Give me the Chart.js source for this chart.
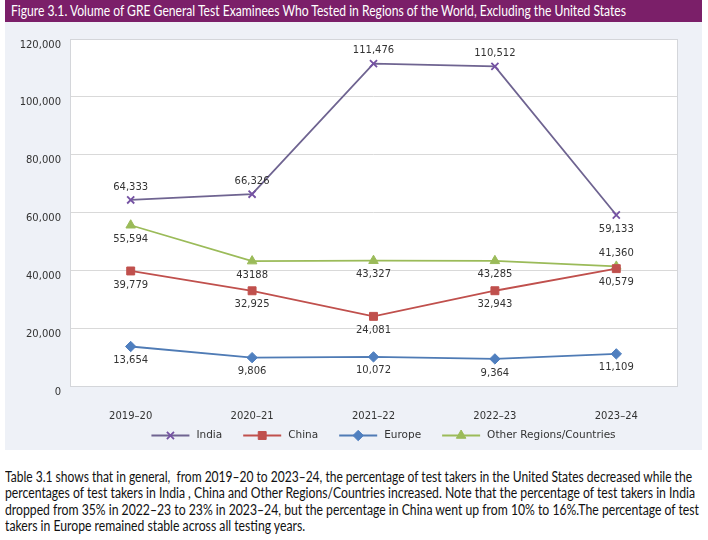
<!DOCTYPE html>
<html>
<head>
<meta charset="utf-8">
<script src="https://cdn.jsdelivr.net/npm/chart.js@4"></script>
<style>
    html, body { margin: 0; padding: 0; background: #fff; width: 708px; height: 540px; overflow: hidden; }
    .title-bar {
        position: absolute; left: 5px; top: 0; width: 697px; height: 22px;
        background: #7b1f69; overflow: hidden;
    }
    .title-bar span {
        position: absolute; left: 6px; top: 0; display: inline-block; transform-origin: 0 50%;
        color: #fff; font: 14.5px Lato, "Open Sans", sans-serif; line-height: 22px; white-space: nowrap;
    }
    .panel { position: absolute; left: 5px; top: 22px; width: 697px; height: 428px; background: #eef1f7; }
    .chart-box { position: absolute; left: 0; top: 22px; width: 708px; height: 428px; }
    .nota { position: absolute; left: 5px; top: 469px; margin: 0; }
    .nota span {
        display: block; width: max-content; transform-origin: 0 0;
        font: 14.5px Lato, "Open Sans", sans-serif;
        line-height: 16.4px; color: #111; white-space: pre;
    }
</style>
</head>
<body>
<div class="title-bar"><span id="titulo">Figure 3.1. Volume of GRE General Test Examinees Who Tested in Regions of the World, Excluding the United States</span></div>
<div class="panel"></div>
<div class="chart-box"><canvas id="greChart"></canvas></div>
<div class="nota" id="nota">
<span>Table 3.1 shows that in general,  from 2019–20 to 2023–24, the percentage of test takers in the United States decreased while the</span>
<span>percentages of test takers in India , China and Other Regions/Countries increased. Note that the percentage of test takers in India</span>
<span>dropped from 35% in 2022–23 to 23% in 2023–24, but the percentage in China went up from 10% to 16%.The percentage of test</span>
<span>takers in Europe remained stable across all testing years.</span>
</div>

<script>
// dados do gráfico
const anos = ['2019–20', '2020–21', '2021–22', '2022–23', '2023–24'];
const india = [64333, 66326, 111476, 110512, 59133];
const china = [39779, 32925, 24081, 32943, 40579];
const europa = [13654, 9806, 10072, 9364, 11109];
const outros = [55594, 43188, 43327, 43285, 41360];
const yTicks = [0, 20000, 40000, 60000, 80000, 100000, 120000];

// rótulo que aparece sem separador no original
const semVirgula = { 3: [1] };
// posição dos rótulos (acima / abaixo do ponto)
const posIndia = ['up', 'up', 'up', 'up', 'down'];
const posChina = ['down', 'down', 'down', 'down', 'down'];
const posEuropa = ['down', 'down', 'down', 'down', 'down'];
const posOutros = ['down', 'down', 'down', 'down', 'up'];
const posicoes = [posIndia, posChina, posEuropa, posOutros];

const fonte = 'DejaVu Sans';

// fonte condensada: ajusta a largura do texto ao original
function condensar(el, largura) {
    const w = el.getBoundingClientRect().width;
    const f = w > 0 ? largura / w : 1;
    el.style.transform = 'scaleX(' + f + ')';
    return f;
}

function serie(label, data, cor, corPonto, estilo, raio) {
    return {
        label, data,
        borderColor: cor, borderWidth: 1.8,
        pointStyle: estilo, pointRadius: raio, pointHoverRadius: raio,
        pointBackgroundColor: corPonto, pointBorderColor: corPonto, pointBorderWidth: estilo === 'crossRot' ? 1.8 : 1,
        tension: 0, fill: false
    };
}

// fundo branco e moldura da área do gráfico
const moldura = {
    id: 'moldura',
    beforeDraw(chart) {
        const { ctx, chartArea: a } = chart;
        ctx.save();
        ctx.fillStyle = '#fff';
        ctx.fillRect(a.left, a.top, a.right - a.left, a.bottom - a.top);
        ctx.restore();
    },
    afterDraw(chart) {
        const { ctx, chartArea: a } = chart;
        ctx.save();
        ctx.strokeStyle = '#d4d6da';
        ctx.lineWidth = 1;
        ctx.strokeRect(Math.round(a.left) + 0.5, Math.round(a.top) + 0.5, Math.round(a.right - a.left), Math.round(a.bottom - a.top));
        ctx.restore();
    }
};

// rótulos de valores
const rotulos = {
    id: 'rotulos',
    afterDatasetsDraw(chart) {
        const ctx = chart.ctx;
        ctx.save();
        ctx.font = '10px ' + fonte;
        ctx.fillStyle = '#333';
        ctx.textAlign = 'center';
        ctx.textBaseline = 'middle';
        chart.data.datasets.forEach((ds, i) => {
            const meta = chart.getDatasetMeta(i);
            meta.data.forEach((pt, j) => {
                const v = ds.data[j];
                const txt = (semVirgula[i] || []).includes(j) ? String(v) : v.toLocaleString('en-US');
                const y = posicoes[i][j] === 'up' ? pt.y - 13 : pt.y + 14;
                ctx.fillText(txt, pt.x, y);
            });
        });
        ctx.restore();
    }
};

// legenda com linha + marcador
const legenda = {
    id: 'legenda',
    afterDraw(chart) {
        const { ctx, chartArea: a } = chart;
        const linha = 38, gap = 7, entre = 21;
        ctx.save();
        ctx.font = '10.5px ' + fonte;
        const itens = chart.data.datasets.map(ds => ({ ds, w: ctx.measureText(ds.label).width }));
        const total = itens.reduce((s, it) => s + linha + gap + it.w, 0) + entre * (itens.length - 1);
        let x = (a.left + a.right) / 2 + 10 - total / 2;
        const y = 413.5;
        itens.forEach(({ ds, w }) => {
            ctx.strokeStyle = ds.borderColor;
            ctx.lineWidth = ds.borderWidth;
            ctx.beginPath();
            ctx.moveTo(x, y);
            ctx.lineTo(x + linha, y);
            ctx.stroke();
            ctx.fillStyle = ds.pointBackgroundColor;
            ctx.strokeStyle = ds.pointBorderColor;
            ctx.lineWidth = ds.pointBorderWidth;
            Chart.helpers.drawPoint(ctx, { pointStyle: ds.pointStyle, radius: ds.pointRadius, rotation: 0, borderWidth: ds.pointBorderWidth }, x + linha / 2, y);
            ctx.fillStyle = '#333';
            ctx.textBaseline = 'middle';
            ctx.textAlign = 'left';
            ctx.fillText(ds.label, x + linha + gap, y);
            x += linha + gap + w + entre;
        });
        ctx.restore();
    }
};

document.addEventListener('DOMContentLoaded', () => {
    condensar(document.getElementById('titulo'), 615);
    // larguras das linhas do texto no original
    const larguras = [687, 690, 694];
    const linhas = document.querySelectorAll('#nota span');
    let f = 1;
    linhas.forEach((el, i) => {
        if (i < larguras.length) f = condensar(el, larguras[i]);
        else el.style.transform = 'scaleX(' + f + ')';
    });

    const ctx = document.getElementById('greChart');
    new Chart(ctx, {
        type: 'line',
        data: {
            labels: anos,
            datasets: [
                serie('India', india, '#6f6491', '#7552a3', 'crossRot', 5),
                serie('China', china, '#c0504d', '#c0504d', 'rect', 5.6),
                serie('Europe', europa, '#4f7bb5', '#4f7fbf', 'rectRot', 5.2),
                serie('Other Regions/Countries', outros, '#9bbb59', '#9bbb59', 'triangle', 5.5)
            ]
        },
        options: {
            responsive: true,
            maintainAspectRatio: false,
            animation: false,
            layout: { padding: { top: 17, right: 31, left: 0, bottom: 0 } },
            scales: {
                x: {
                    offset: true,
                    grid: { display: false },
                    border: { display: false },
                    ticks: { color: '#333', font: { family: fonte, size: 10 }, padding: 16 },
                    afterFit(s) { s.height = 64; }
                },
                y: {
                    min: 0, max: 120000,
                    afterBuildTicks(s) { s.ticks = yTicks.map(v => ({ value: v })); },
                    grid: { color: '#d9d9d9', drawTicks: false },
                    border: { display: false },
                    ticks: {
                        color: '#333', font: { family: fonte, size: 10 }, padding: 9, labelOffset: 6,
                        callback: v => v.toLocaleString('en-US')
                    },
                    afterFit(s) { s.width = 70; }
                }
            },
            plugins: {
                legend: { display: false },
                tooltip: { enabled: false }
            }
        },
        plugins: [moldura, rotulos, legenda]
    });
});
</script>
</body>
</html>
